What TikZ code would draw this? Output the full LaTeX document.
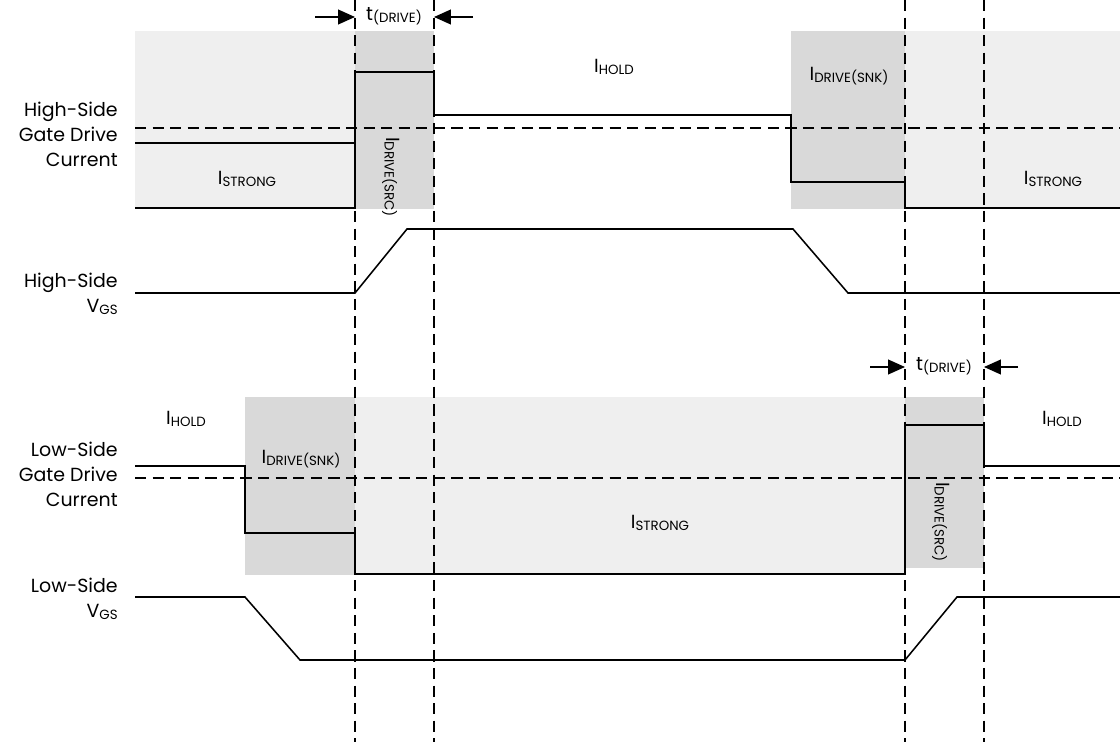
\documentclass[tikz,border=0pt]{standalone}
\usepackage{fontspec}
\setmainfont{Poppins}
\usetikzlibrary{arrows.meta}
\definecolor{lightfill}{RGB}{239,239,239}
\definecolor{darkfill}{RGB}{217,217,217}
\newcommand{\sig}[2]{#1\raisebox{-0.1em}{\fontsize{9.5}{9.5}\selectfont #2}}

\begin{document}
\begin{tikzpicture}[x=0.025cm, y=-0.025cm,
    wave/.style={line width=1.1pt},
    guide/.style={line width=0.8pt, dash pattern=on 8pt off 4.5pt},
    tdim/.style={line width=1.1pt, -{Triangle[length=12pt,width=10.5pt]}},
    lbl/.style={font=\fontsize{13.5}{17.7}\selectfont, align=right, anchor=east, inner sep=0pt},
    sigtxt/.style={font=\fontsize{13.5}{15}\selectfont, inner sep=0pt}]
    \useasboundingbox (0,0) rectangle (1120,742);

    % High-side shaded regions
    \fill[lightfill] (135,31) rectangle (355,209);
    \fill[darkfill] (355,31) rectangle (434,209);
    \fill[darkfill] (791,31) rectangle (905,209);
    \fill[lightfill] (905,31) rectangle (1120,209);

    % Low-side shaded regions
    \fill[darkfill] (245,397) rectangle (355,575);
    \fill[lightfill] (355,397) rectangle (905,575);
    \fill[darkfill] (905,397) rectangle (984,568);

    % Timing guides
    \foreach \x/\n in {355/a, 434/b, 905/c, 984/d} {
        \coordinate (top\n) at (\x,0);
        \coordinate (bot\n) at (\x,742);
        \draw[guide] (top\n) -- (bot\n);
    }
    \coordinate (hsref) at (135,128);
    \coordinate (lsref) at (135,478);
    \draw[guide] (hsref) -- (1120,128);
    \draw[guide] (lsref) -- (1120,478);

    % High-side gate drive current
    \draw[wave] (135,143) -- (355,143);
    \draw[wave] (135,208) -- (355,208) -- (355,72) -- (434,72) -- (434,115) -- (791,115)
        -- (791,182) -- (905,182) -- (905,208) -- (1120,208);

    % High-side VGS
    \draw[wave] (135,293) -- (355,293) -- (407,229) -- (793,229) -- (848,293) -- (1120,293);

    % Low-side gate drive current
    \draw[wave] (135,466) -- (245,466) -- (245,533) -- (355,533) -- (355,574) -- (905,574)
        -- (905,425) -- (984,425) -- (984,466) -- (1120,466);

    % Low-side VGS
    \draw[wave] (135,597) -- (245,597) -- (300,660) -- (905,660) -- (957,597) -- (1120,597);

    % Axis labels
    \node[lbl] (hsgate) at (118,134) {High-Side\\Gate Drive\\Current};
    \node[lbl] (hsvgs) at (118,294) {High-Side\\\sig{V}{GS}};
    \node[lbl] (lsgate) at (118,474) {Low-Side\\Gate Drive\\Current};
    \node[lbl] (lsvgs) at (118,599) {Low-Side\\\sig{V}{GS}};

    % Current labels, high side
    \node[sigtxt] (hsstrong1) at (247,179) {\sig{I}{STRONG}};
    \node[sigtxt, rotate=-90] (hssrc) at (391,177) {\sig{I}{DRIVE(SRC)}};
    \node[sigtxt] (hshold) at (614,67) {\sig{I}{HOLD}};
    \node[sigtxt] (hssnk) at (849,76) {\sig{I}{DRIVE(SNK)}};
    \node[sigtxt] (hsstrong2) at (1053,179) {\sig{I}{STRONG}};

    % Current labels, low side
    \node[sigtxt] (lshold1) at (186,419) {\sig{I}{HOLD}};
    \node[sigtxt] (lssnk) at (301,459) {\sig{I}{DRIVE(SNK)}};
    \node[sigtxt] (lsstrong) at (660,523) {\sig{I}{STRONG}};
    \node[sigtxt, rotate=-90] (lssrc) at (941,522) {\sig{I}{DRIVE(SRC)}};
    \node[sigtxt] (lshold2) at (1062,419) {\sig{I}{HOLD}};

    % Drive time markers
    \node[sigtxt] (hstd) at (394,16) {\sig{t}{(DRIVE)}};
    \coordinate (hsarwL) at (315,17);
    \coordinate (hsarwR) at (473,17);
    \draw[tdim] (hsarwL) -- (topa |- hsarwL);
    \draw[tdim] (hsarwR) -- (topb |- hsarwR);

    \node[sigtxt] (lstd) at (944,366) {\sig{t}{(DRIVE)}};
    \coordinate (lsarwL) at (870,367);
    \coordinate (lsarwR) at (1018,367);
    \draw[tdim] (lsarwL) -- (topc |- lsarwL);
    \draw[tdim] (lsarwR) -- (topd |- lsarwR);
\end{tikzpicture}
\end{document}
